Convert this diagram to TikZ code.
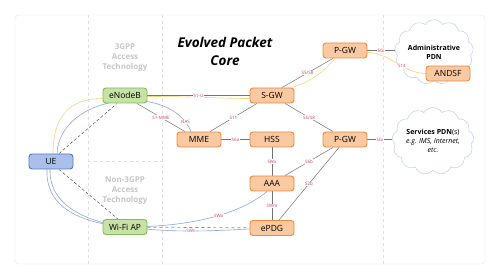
\documentclass[tikz,border=0pt]{standalone}
\usepackage{fontspec}
\setmainfont{Open Sans}
\usetikzlibrary{shapes.symbols,backgrounds}
\definecolor{orfill}{HTML}{F9C9A2}
\definecolor{ordraw}{HTML}{EE8A3C}
\definecolor{grfill}{HTML}{C6E2A5}
\definecolor{grdraw}{HTML}{86BA5C}
\definecolor{blfill}{HTML}{A9C1EA}
\definecolor{bldraw}{HTML}{5479C0}
\definecolor{lblred}{HTML}{C0415A}
\definecolor{upyel}{HTML}{F8D47A}
\definecolor{cpblue}{HTML}{8EA7DC}
\definecolor{cloudline}{HTML}{C4D6EA}
\begin{document}
\begin{tikzpicture}[x=1pt,y=-1pt,
  box/.style={draw, rounded corners=3, line width=0.9, minimum width=44,
    minimum height=15, inner sep=0, font=\fontsize{8.5}{10}\selectfont},
  epc/.style={box, fill=orfill, draw=ordraw},
  acc/.style={box, fill=grfill, draw=grdraw},
  usr/.style={box, fill=blfill, draw=bldraw},
  pdn/.style={cloud, cloud puffs=13, cloud puff arc=115, aspect=1.3,
    draw=cloudline, fill=white, line width=0.6, align=center, inner sep=0,
    font=\fontsize{7}{9}\selectfont},
  zone/.style={font=\fontsize{8}{10}\selectfont\bfseries, text=black!22, align=center},
  sep/.style={black!12, dashed, line width=0.4},
  link/.style={black!55, line width=0.5},
  radio/.style={black!70, densely dashed, line width=0.45},
  tunnel/.style={black!45, dashed, line width=0.7},
  uplane/.style={upyel, line width=0.6},
  cplane/.style={cpblue, line width=0.6},
  lbl/.style={font=\fontsize{4.5}{5}\selectfont, text=lblred, fill=white, inner sep=0.4}]
  \useasboundingbox (0,0) rectangle (500,280);
  % frame, zones and PDN clouds
  \begin{scope}[on background layer]
    \fill[white] (0,0) rectangle (500,280);
    \draw[black!10, rounded corners=4] (15,15) rectangle (485,264);
    \draw[sep] (88,15) -- (88,264);
    \draw[sep] (162,15) -- (162,264);
    \draw[sep] (383,15) -- (383,264);
    \draw[sep] (88,161) -- (162,161);
    \node[pdn, minimum width=74, minimum height=56] (admin) at (434,52)
      {\textbf{Administrative}\\\textbf{PDN}};
    \node[pdn, minimum width=74, minimum height=56] (services) at (433,141)
      {\textbf{Services PDN}(s)\\\textit{e.g. IMS, Internet,}\\\textit{etc.}};
  \end{scope}
  % titles
  \node[align=center, font=\fontsize{13.5}{18}\selectfont\bfseries\itshape] (core) at (225,51)
    {Evolved Packet\\Core};
  \node[zone] (tgpp) at (125,58) {3GPP\\Access\\Technology};
  \node[zone] (ntgpp) at (125,191) {Non-3GPP\\Access\\Technology};
  % nodes
  \node[usr] (ue) at (51,161.5) {UE};
  \node[acc] (enb) at (125,95.5) {eNodeB};
  \node[acc] (wifi) at (125,227) {Wi-Fi AP};
  \node[epc] (sgw) at (272,95.5) {S-GW};
  \node[epc] (mme) at (199,139.5) {MME};
  \node[epc] (hss) at (272,139.5) {HSS};
  \node[epc] (pgwa) at (345,50.5) {P-GW};
  \node[epc] (pgws) at (345,139.5) {P-GW};
  \node[epc] (aaa) at (272,183.5) {AAA};
  \node[epc] (epdg) at (272,228) {ePDG};
  \node[epc] (andsf) at (448,73.5) {ANDSF};
  \begin{scope}[on background layer]
    % user plane
    \draw[uplane] ([xshift=2]ue.north) .. controls +(0,-45) and +(-25,0) .. ([yshift=-3]enb.west);
    \draw[uplane] ([yshift=-1]enb.east) .. controls +(50,0) and +(-30,0) .. ([yshift=-3]sgw.west);
    \draw[uplane] ([xshift=20]sgw.north) to[bend right=15] ([xshift=-10]pgwa.south);
    \draw[uplane] ([yshift=-2]pgwa.east) .. controls +(22,0) and +(-22,0) .. (andsf.west)
      node[lbl, pos=0.6] {S14};
    % control plane
    \draw[cplane] ([xshift=6]ue.north) .. controls +(3,-60) and +(-20,-50) .. ([xshift=-8]mme.north)
      node[lbl, pos=0.93] {NAS};
    \draw[cplane] ([xshift=-4]ue.south) .. controls +(-2,45) and +(-30,-3) .. (wifi.center)
      .. controls +(60,0) and +(-30,25) .. ([xshift=-5]aaa.south) node[lbl, pos=0.58] {SWa};
    \draw[cplane] ([xshift=-1]ue.south) .. controls +(-1,40) and +(-30,-4) .. (wifi.center)
      .. controls +(50,6) and +(-40,2) .. ([yshift=-1]epdg.west) node[lbl, pos=0.5] {SWn};
    % reference points
    \draw[link] (enb) -- node[lbl] {S1-U} (sgw);
    \draw[link] ([xshift=12]enb.south) -- node[lbl] {S1-MME} ([xshift=-14]mme.north);
    \draw[link] ([xshift=11]mme.north) -- node[lbl] {S11} ([xshift=-15]sgw.south);
    \draw[link] (mme) -- node[lbl] {S6a} (hss);
    \draw[link] ([xshift=13]sgw.south) -- node[lbl] {S5/S8} ([xshift=-12]pgws.north);
    \draw[link] ([xshift=10]sgw.north) -- node[lbl] {S5/S8} ([xshift=-12]pgwa.south);
    \draw[link] (hss) -- node[lbl] {SWx} (aaa);
    \draw[link] (aaa) -- node[lbl] {SWm} (epdg);
    \draw[link] ([xshift=13]aaa.north) -- node[lbl] {S6b} ([xshift=-12]pgws.south);
    \draw[link] ([xshift=7]epdg.north) -- node[lbl] {S2b} ([xshift=-6]pgws.south);
    \draw[link] (pgwa) -- node[lbl] {SGi} (pgwa.east -| admin.west);
    \draw[link] (pgws) -- node[lbl] {SGi} (pgws.east -| services.west);
    % radio and tunnel
    \draw[radio] ([xshift=8]ue.north) -- ([xshift=-8]enb.south);
    \draw[radio] ([xshift=8]ue.south) -- ([xshift=-7]wifi.north);
    \draw[tunnel] (wifi) -- (epdg);
  \end{scope}
\end{tikzpicture}
\end{document}
